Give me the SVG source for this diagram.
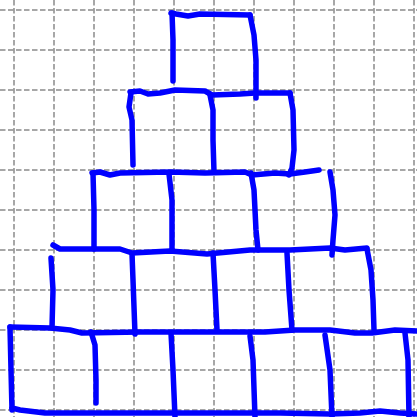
<svg xmlns="http://www.w3.org/2000/svg" width="417" height="417" viewBox="0 0 417 417">
<style>
.g{stroke:#8a8a8a;stroke-width:1.5;stroke-dasharray:5.5 2.5;fill:none}
.b{stroke:#0000ff;stroke-width:5.5;fill:none;stroke-linecap:round;stroke-linejoin:round}
</style>
<rect width="417" height="417" fill="#ffffff"/>
<g id="grid">
<path class="g" d="M14,0V417M54,0V417M94,0V417M134,0V417M174,0V417M214,0V417M254,0V417M294,0V417M334,0V417M374,0V417M414,0V417"/>
<path class="g" d="M0,10H417M0,50H417M0,90H417M0,130H417M0,170H417M0,210H417M0,250H417M0,290H417M0,330H417M0,370H417M0,410H417"/>
</g>
<g id="pyramid">
<g id="row1">
<path class="b" d="M171,13 L176,14 L188,16 L200,14 L250,15"/>
<path class="b" d="M172,13 L173,40 L173,81"/>
<path class="b" d="M250,15 L254,35 L256,60 L256,98"/>
</g>
<g id="row2">
<path class="b" d="M130,92 L140,91 L148,94 L160,93 L175,90 L205,91 L212,95 L240,94 L255,93 L290,93"/>
<path class="b" d="M131,93 L129,107 L132,120 L133,165"/>
<path class="b" d="M210,95 L213,110 L213,140 L214,172"/>
<path class="b" d="M290,93 L293,110 L294,150 L292,168 L289,175"/>
</g>
<g id="row3">
<path class="b" d="M92,173 L100,172 L110,175 L120,173 L170,172 L205,173 L245,172 L252,175 L275,173 L290,174 L305,172 L319,170"/>
<path class="b" d="M93,173 L94,210 L94,249"/>
<path class="b" d="M169,174 L172,200 L172,250"/>
<path class="b" d="M251,173 L254,190 L256,230 L258,250"/>
<path class="b" d="M330,172 L333,190 L335,215 L333,240 L332,255"/>
</g>
<g id="row4">
<path class="b" d="M53,245 L60,249 L120,249 L132,253 L170,251 L207,254 L250,250 L290,250 L330,248 L345,250 L367,248"/>
<path class="b" d="M51,258 L53,290 L52,327"/>
<path class="b" d="M132,254 L133,280 L135,334"/>
<path class="b" d="M213,253 L215,290 L217,330"/>
<path class="b" d="M287,253 L289,290 L292,330"/>
<path class="b" d="M367,249 L371,270 L373,300 L374,330"/>
</g>
<g id="row5">
<path class="b" d="M10,327 L50,328 L70,330 L82,333 L140,332 L175,332 L250,332 L265,332 L295,330 L330,330 L355,333 L372,333 L395,330 L417,331"/>
<path class="b" d="M10,327 L11,370 L12,410"/>
<path class="b" d="M91,332 L95,345 L96,380 L96,403"/>
<path class="b" d="M171,333 L173,370 L175,417"/>
<path class="b" d="M250,336 L253,360 L255,417"/>
<path class="b" d="M325,335 L330,370 L332,417"/>
<path class="b" d="M405,333 L408,360 L409,417"/>
<path class="b" d="M12,408 L20,410 L45,413 L140,413 L280,413 L330,414 L360,413 L380,411 L400,413 L417,414"/>
</g>
</g>
</svg>
